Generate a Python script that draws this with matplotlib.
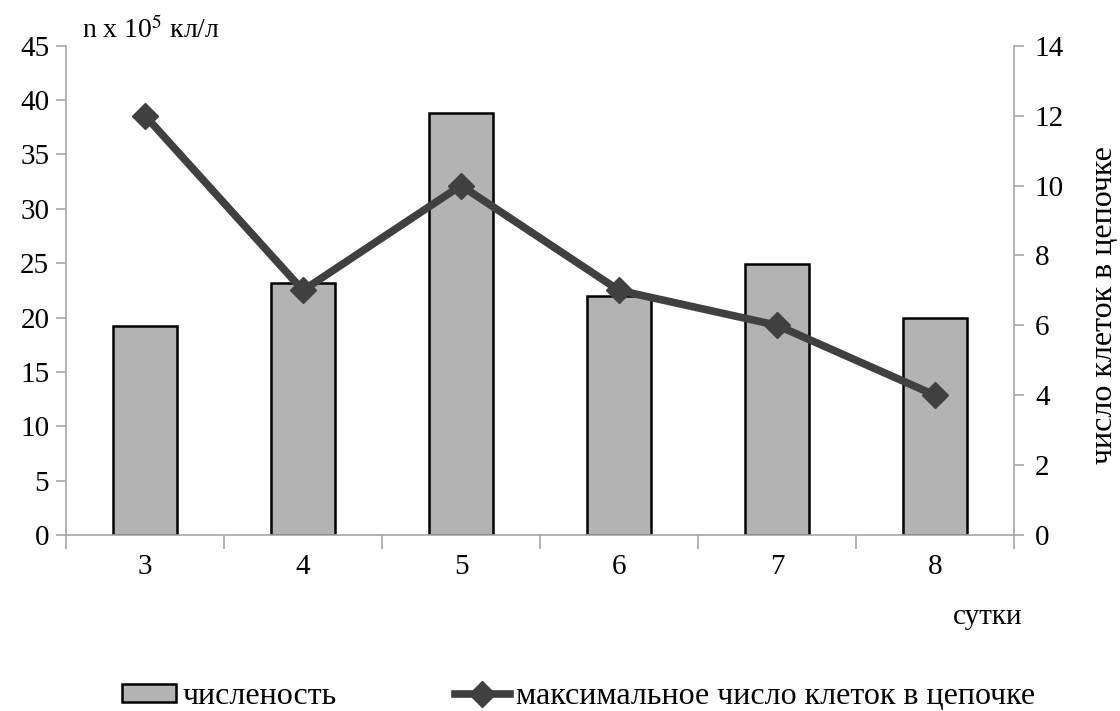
import matplotlib
matplotlib.use('Agg')
import matplotlib.pyplot as plt
import numpy as np

plt.rcParams['font.family'] = ['Liberation Serif', 'DejaVu Serif']
plt.rcParams['mathtext.fontset'] = 'stix'

# days
days = ['3', '4', '5', '6', '7', '8']
# численость, n x 10^5 кл/л
abundance = [19.2, 23.2, 38.8, 22.0, 24.9, 20.0]
# максимальное число клеток в цепочке
max_cells = [12, 7, 10, 7, 6, 4]

axis_grey = '#a6a6a6'

fig = plt.figure(figsize=(11.2, 7.11), dpi=100)
ax = fig.add_axes([0.0589, 0.2475, 0.9054 - 0.0589, 0.9357 - 0.2475])
x = np.arange(len(days))

bars = ax.bar(x, abundance, width=0.41, color='#b3b3b3', edgecolor='black',
              linewidth=1.8, label='численость', zorder=2)
ax.set_xlim(-0.5, len(days) - 0.5)
ax.set_ylim(0, 45)
ax.set_yticks(np.arange(0, 46, 5))

ax2 = ax.twinx()
line, = ax2.plot(x, max_cells, color='#404040', linewidth=5.5, marker='D',
                 markersize=13, label='максимальное число клеток в цепочке',
                 zorder=3)
ax2.set_ylim(0, 14)
ax2.set_yticks(np.arange(0, 15, 2))

for a in (ax, ax2):
    a.spines['top'].set_visible(False)
    for s in ('left', 'right', 'bottom'):
        a.spines[s].set_color(axis_grey)
        a.spines[s].set_linewidth(1.2)
    a.tick_params(axis='y', labelsize=21, color=axis_grey, length=7, width=1.2)

ax.spines['right'].set_visible(False)
ax2.spines['left'].set_visible(False)
ax2.spines['bottom'].set_visible(False)

ax.set_xticks(x)
ax.set_xticklabels(days)
ax.tick_params(axis='x', which='major', length=0, labelsize=21, pad=14)
ax.set_xticks(np.arange(-0.5, len(days), 1), minor=True)
ax.tick_params(axis='x', which='minor', length=10, color=axis_grey, width=1.2)
ax.tick_params(axis='y', pad=5)
ax2.tick_params(axis='y', pad=8)

ax2.set_ylabel('число клеток в цепочке', fontsize=23)
ax2.yaxis.set_label_coords(1.08, 0.47)
fig.text(0.073, 0.957, 'n x 10$^5$ кл/л', fontsize=20, ha='left', va='center')
fig.text(0.851, 0.132, 'сутки', fontsize=21, ha='left', va='center')

fig.legend(handles=[bars, line], loc='center left', bbox_to_anchor=(0.109, 0.02),
           ncol=2, frameon=False, fontsize=23, handlelength=1.7,
           handleheight=0.5, handletextpad=0.2, columnspacing=3.7,
           borderpad=0, borderaxespad=0)

fig.savefig('out.png', dpi=100)
